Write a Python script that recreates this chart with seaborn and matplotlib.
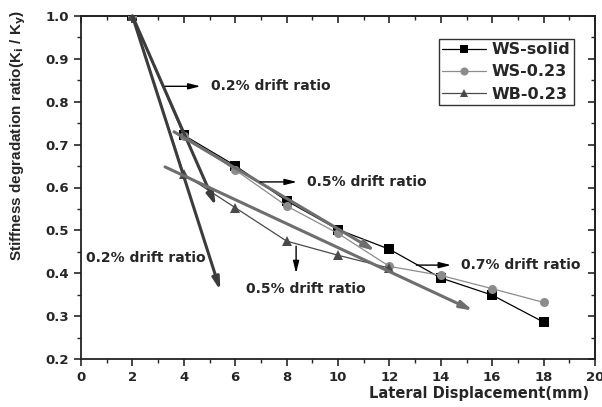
import matplotlib
matplotlib.use("Agg")
import matplotlib.pyplot as plt
import seaborn as sns
import pandas as pd
from matplotlib.ticker import MultipleLocator, FormatStrFormatter

# ---- data ----
x_ws = [2, 4, 6, 8, 10, 12, 14, 16, 18]
ws_solid = [1.0, 0.722, 0.651, 0.569, 0.502, 0.456, 0.389, 0.349, 0.286]
ws_023 = [1.0, 0.721, 0.641, 0.557, 0.493, 0.416, 0.395, 0.364, 0.332]
x_wb = [2, 4, 6, 8, 10, 12]
wb_023 = [1.0, 0.631, 0.553, 0.475, 0.442, 0.412]

series_names = ["WS-solid", "WS-0.23", "WB-0.23"]

# annotation trend arrows: (x0, y0, x1, y1)
trend_dark = [(2.0, 1.0, 5.42, 0.36), (2.0, 1.0, 5.25, 0.557)]
trend_gray = [(3.62, 0.730, 11.45, 0.452), (3.27, 0.648, 15.25, 0.313)]
# pointer arrows: (x0, y0, x1, y1, label, tx, ty)
pointers = [
    (3.27, 0.836, 4.65, 0.836, "0.2% drift ratio", 5.06, 0.836),
    (6.96, 0.613, 8.4, 0.613, "0.5% drift ratio", 8.8, 0.613),
    (8.37, 0.463, 8.37, 0.400, "0.5% drift ratio", 6.42, 0.363),
    (13.05, 0.419, 14.4, 0.419, "0.7% drift ratio", 14.8, 0.419),
]
free_labels = [("0.2% drift ratio", 0.19, 0.435)]

df = pd.concat([
    pd.DataFrame({"x": x_ws, "y": ws_solid, "s": series_names[0]}),
    pd.DataFrame({"x": x_ws, "y": ws_023, "s": series_names[1]}),
    pd.DataFrame({"x": x_wb, "y": wb_023, "s": series_names[2]}),
])

sns.set_theme(style="ticks")
plt.rcParams["font.family"] = ["DejaVu Sans"]
plt.rcParams["font.weight"] = "bold"
WIDE = ["DejaVu Sans"]
NARROW = ["Liberation Sans", "DejaVu Sans"]

fig = plt.figure(figsize=(6.02, 4.07), dpi=100)
ax = fig.add_axes([81 / 602, 1 - 359 / 407, (595 - 81) / 602, (359 - 16) / 407])

palette = {"WS-solid": "#000000", "WS-0.23": "#8c8c8c", "WB-0.23": "#4a4a4a"}
markers = {"WS-solid": "s", "WS-0.23": "o", "WB-0.23": "^"}
sns.lineplot(data=df, x="x", y="y", hue="s", style="s", palette=palette,
             markers=markers, dashes=False, markersize=6.5, linewidth=0.9,
             markeredgewidth=0, ax=ax, legend=True, sort=False, zorder=3)

# trend arrows
for (x0, y0, x1, y1) in trend_dark:
    ax.annotate("", xy=(x1, y1), xytext=(x0, y0),
                arrowprops=dict(arrowstyle="-|>,head_length=0.6,head_width=0.17",
                                color="#3c3c3c", lw=2.2, shrinkA=0, shrinkB=0), zorder=4)
for (x0, y0, x1, y1) in trend_gray:
    ax.annotate("", xy=(x1, y1), xytext=(x0, y0),
                arrowprops=dict(arrowstyle="-|>,head_length=0.6,head_width=0.17",
                                color="#6e6e6e", lw=2.2, shrinkA=0, shrinkB=0), zorder=4)

for (x0, y0, x1, y1, lab, tx, ty) in pointers:
    ax.annotate("", xy=(x1, y1), xytext=(x0, y0),
                arrowprops=dict(arrowstyle="-|>,head_length=0.6,head_width=0.15",
                                color="black", lw=1.0, shrinkA=0, shrinkB=0), zorder=4)
    ax.text(tx, ty, lab, fontsize=10, fontweight="bold", va="center", ha="left",
            family=WIDE)
for (lab, tx, ty) in free_labels:
    ax.text(tx, ty, lab, fontsize=10, fontweight="bold", va="center", ha="left",
            family=WIDE)

ax.set_xlim(0, 20)
ax.set_ylim(0.2, 1.0)
ax.xaxis.set_major_locator(MultipleLocator(2))
ax.xaxis.set_minor_locator(MultipleLocator(1))
ax.yaxis.set_major_locator(MultipleLocator(0.1))
ax.yaxis.set_minor_locator(MultipleLocator(0.05))
ax.yaxis.set_major_formatter(FormatStrFormatter("%.1f"))
ax.tick_params(which="major", direction="out", length=5, width=1.2, labelsize=9.5)
ax.tick_params(which="minor", direction="out", length=3, width=1.0)
for lab in ax.get_xticklabels() + ax.get_yticklabels():
    lab.set_fontweight("bold")
    lab.set_family(WIDE)

for sp in ax.spines.values():
    sp.set_visible(True)
    sp.set_linewidth(1.3)
    sp.set_color("#222222")

# mirror ticks inside on top/right
top = ax.secondary_xaxis("top")
top.xaxis.set_major_locator(MultipleLocator(2))
top.xaxis.set_minor_locator(MultipleLocator(1))
top.tick_params(which="major", direction="in", length=5, width=1.2, labeltop=False)
top.tick_params(which="minor", direction="in", length=3, width=1.0)
right = ax.secondary_yaxis("right")
right.yaxis.set_major_locator(MultipleLocator(0.1))
right.yaxis.set_minor_locator(MultipleLocator(0.05))
right.tick_params(which="major", direction="in", length=5, width=1.2, labelright=False)
right.tick_params(which="minor", direction="in", length=3, width=1.0)

ax.set_xlabel("Lateral Displacement(mm)", fontsize=10.5, fontweight="bold", family=WIDE)
ax.xaxis.set_label_coords(0.775, -0.08)
ax.set_ylabel(r"Stiffness degradation ratio(K$_\mathbf{i}$ / K$_\mathbf{y}$)",
              fontsize=11, fontweight="bold", family=NARROW)
ax.yaxis.set_label_coords(-0.103, 0.653)

handles, labels = ax.get_legend_handles_labels()
leg = ax.legend(handles, labels, loc="upper right", bbox_to_anchor=(0.959, 0.933),
                frameon=True, fancybox=False, edgecolor="#333333", framealpha=1,
                prop={"family": WIDE, "weight": "bold", "size": 11.5},
                handlelength=2.7, borderpad=0.2, labelspacing=0.45,
                handletextpad=0.4, borderaxespad=0, markerscale=0.9)
leg.get_frame().set_linewidth(1.0)

fig.savefig("out.png", dpi=100)
